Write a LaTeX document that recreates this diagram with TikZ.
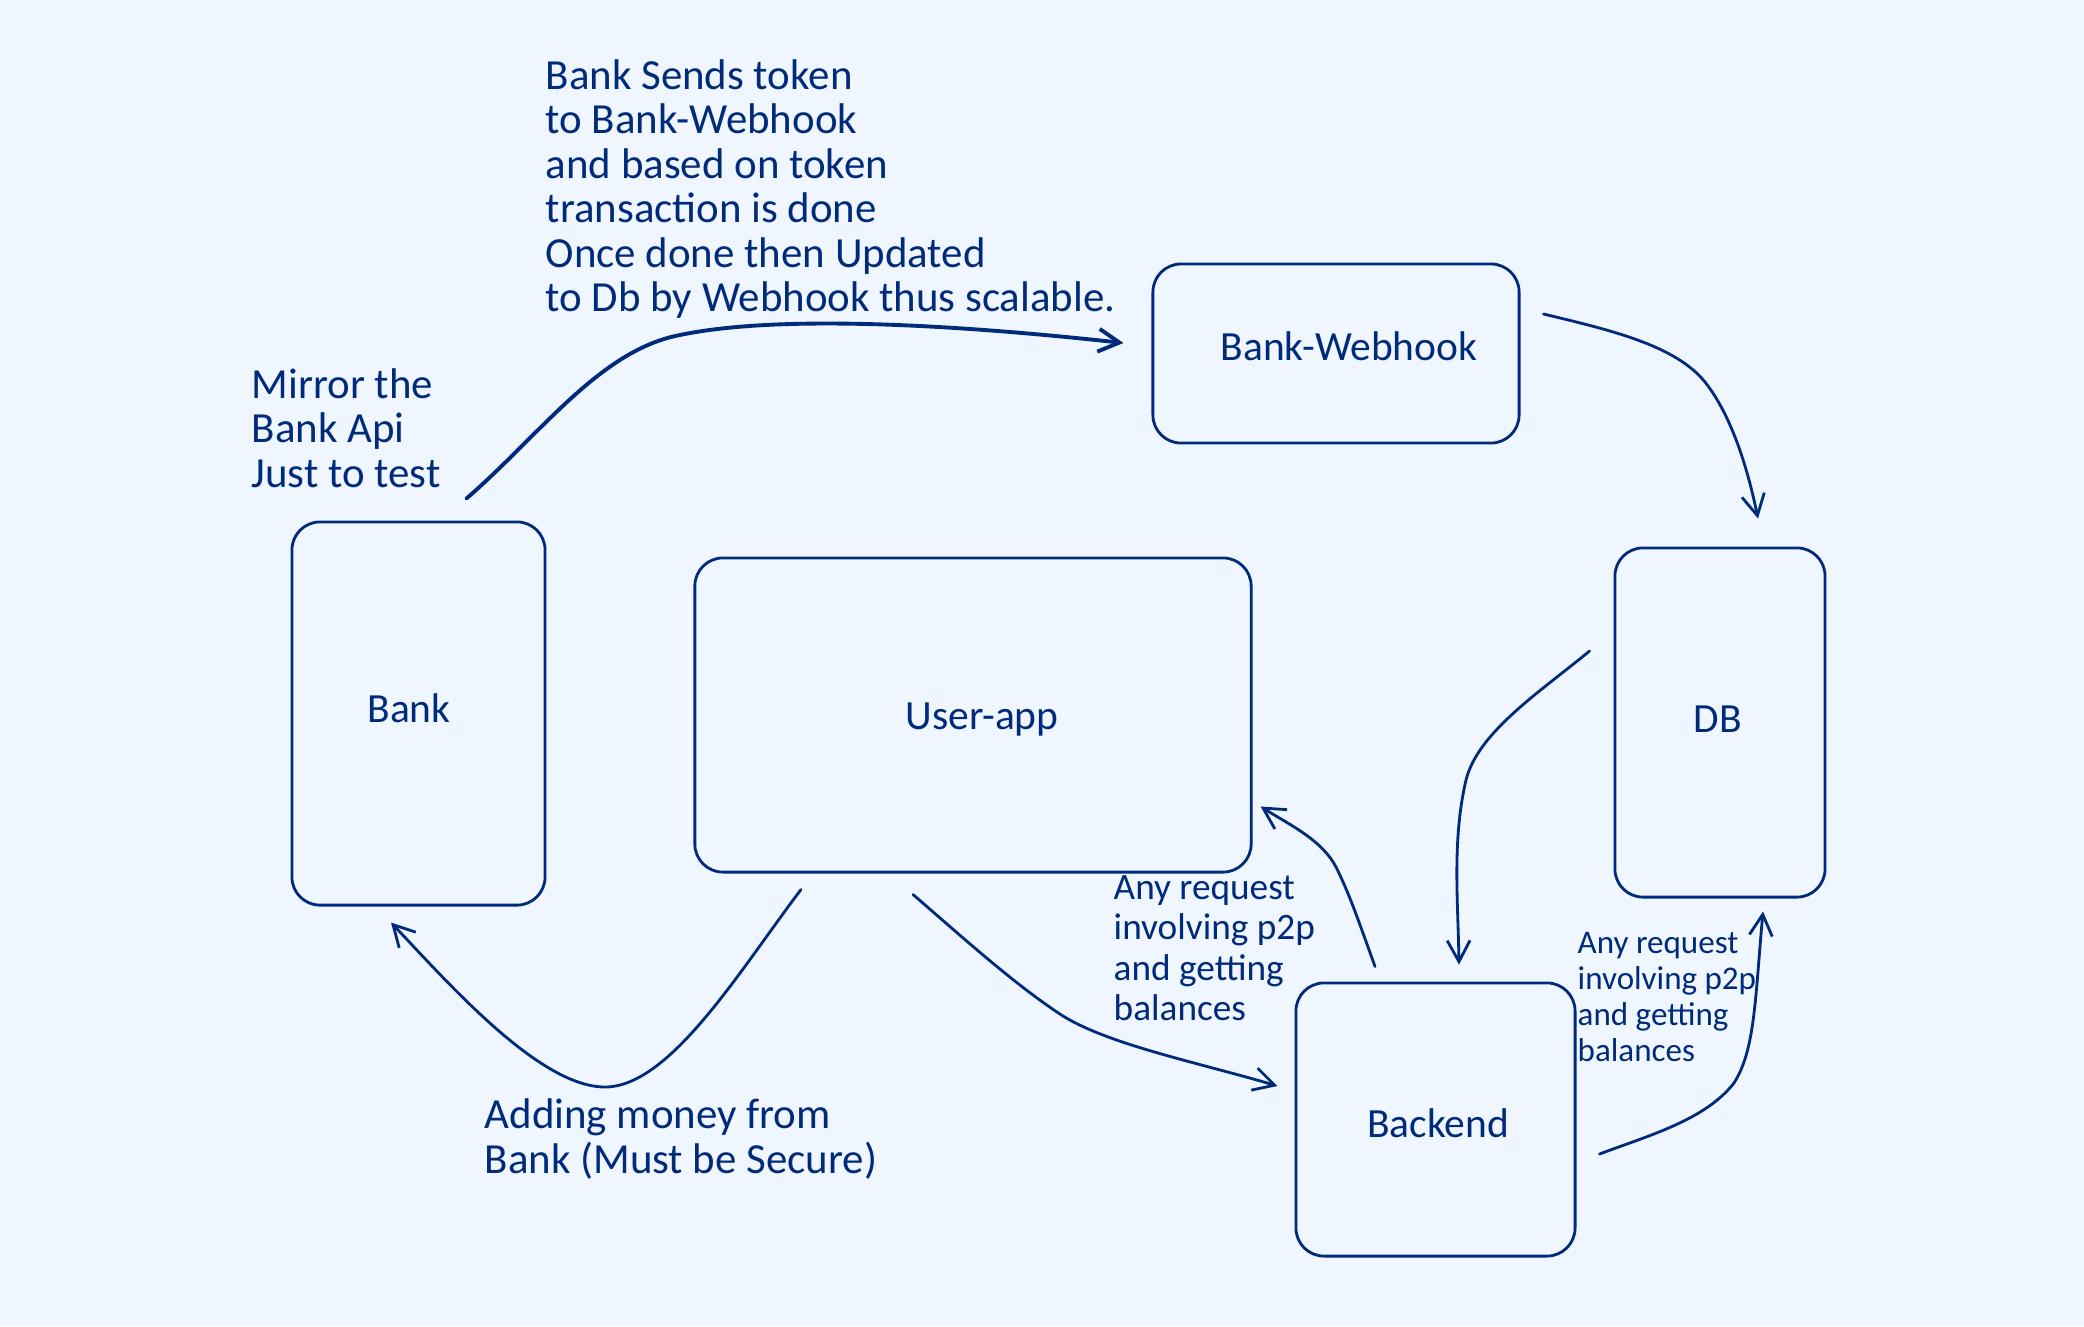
\documentclass[tikz,border=0pt]{standalone}
\usepackage{fontspec}
\setmainfont{Carlito}
\usetikzlibrary{arrows.meta}

\definecolor{inkblue}{HTML}{002A7A}
\definecolor{paleblue}{HTML}{EFF6FF}

\tikzset{
  boxnode/.style={draw=inkblue, line width=0.8pt, rounded corners=8pt, inner sep=0pt},
  arrowline/.style={draw=inkblue, line width=0.8pt, line cap=round, -{Straight Barb[length=6pt,width=6.5pt]}},
  boxtext/.style={text=inkblue, font=\fontsize{11.8}{12.66}\selectfont},
  bigtext/.style={text=inkblue, align=left, anchor=west, inner sep=0pt, font=\fontsize{12.2}{12.66}\selectfont},
  midtext/.style={text=inkblue, align=left, anchor=west, inner sep=0pt, font=\fontsize{10.6}{11.5}\selectfont},
  smalltext/.style={text=inkblue, align=left, anchor=west, inner sep=0pt, font=\fontsize{9.4}{10.25}\selectfont}
}

\begin{document}
\begin{tikzpicture}[x=0.01cm, y=-0.01cm]
\fill [paleblue] (0,0) rectangle (2084,1326);
\useasboundingbox (0,0) rectangle (2084,1326);

% boxes
\node [boxnode, minimum width=2.53cm, minimum height=3.83cm] (bank)    at (418.5,713.5) {};
\node [boxnode, minimum width=5.56cm, minimum height=3.14cm] (app)     at (973,715)     {};
\node [boxnode, minimum width=3.66cm, minimum height=1.79cm] (hook)    at (1336,353.5)  {};
\node [boxnode, minimum width=2.10cm, minimum height=3.49cm] (db)      at (1720,722.5)  {};
\node [boxnode, minimum width=2.79cm, minimum height=2.73cm] (backend) at (1435.5,1119.5) {};

% box labels
\node [boxtext] (banktext)    at (409,708)   {Bank};
\node [boxtext] (apptext)     at (982,720)   {User-app};
\node [boxtext] (hooktext)    at (1349,346)  {Bank-Webhook};
\node [boxtext] (dbtext)      at (1718,719)  {DB};
\node [boxtext] (backendtext) at (1438,1123) {Backend};

% notes
\node [bigtext] (tokennote) at (545,189) {Bank Sends token\\to Bank-Webhook\\and based on token\\transaction is done\\Once done then Updated\\to Db by Webhook thus scalable.};
\node [bigtext] (mirrornote) at (251,428) {Mirror the\\Bank Api\\Just to test};
\node [bigtext] (moneynote) at (484,1139) {Adding money from\\Bank (Must be Secure)};
\node [midtext] (p2pnote) at (1113,948) {Any request\\involving p2p\\and getting\\balances};
\node [smalltext] (dbnote) at (1577,997) {Any request\\involving p2p\\and getting\\balances};

% connectors
\draw [arrowline, line width=1.1pt] ([shift={(-80,-22)}]bank.north east)
  .. controls (540,435) and (600,350) .. (680,335)
  .. controls (780,314) and (960,325) .. ([shift={(-28,-10.5)}]hook.west);
\draw [arrowline] ([shift={(23,-39.5)}]hook.east)
  .. controls (1610,330) and (1675,345) .. (1705,382)
  .. controls (1735,420) and (1750,480) .. ([shift={(38,-28)}]db.north);
\draw [arrowline] ([shift={(-24,-71.5)}]db.west)
  .. controls (1540,692) and (1478,732) .. (1466,780)
  .. controls (1452,840) and (1458,900) .. ([shift={(23.5,-17)}]backend.north);
\draw [arrowline] ([shift={(-60.5,-15)}]backend.north)
  .. controls (1360,925) and (1350,895) .. (1336,867)
  .. controls (1322,840) and (1290,825) .. ([shift={(8,-67)}]app.south east);
\draw [arrowline] ([shift={(-60,21)}]app.south)
  .. controls (960,935) and (1015,985) .. (1063,1016)
  .. controls (1110,1045) and (1200,1063) .. ([shift={(-17,-33.5)}]backend.west);
\draw [arrowline] ([shift={(23,34.5)}]backend.east)
  .. controls (1650,1135) and (1705,1120) .. (1734,1083)
  .. controls (1755,1050) and (1755,1000) .. ([shift={(43,13)}]db.south);
\draw [arrowline] ([shift={(-172,16)}]app.south)
  .. controls (740,970) and (670,1087) .. (605,1087)
  .. controls (540,1087) and (450,985) .. ([shift={(-27.5,16)}]bank.south);
\end{tikzpicture}
\end{document}
